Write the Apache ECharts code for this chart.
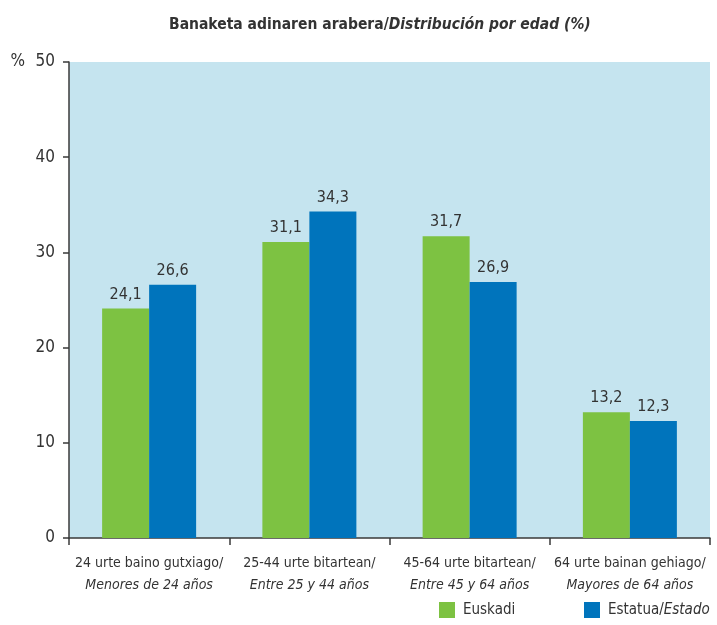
<!DOCTYPE html>
<html>
<head>
<meta charset="utf-8">
<script src="https://cdn.jsdelivr.net/npm/echarts@6/dist/echarts.min.js"></script>
<style>
html,body{margin:0;padding:0;background:#fff;}
#chart{width:717px;height:625px;}
</style>
</head>
<body>
<div id="chart"></div>
<script>
var categories_eu = ['24 urte baino gutxiago/', '25-44 urte bitartean/', '45-64 urte bitartean/', '64 urte bainan gehiago/'];
var categories_es = ['Menores de 24 años', 'Entre 25 y 44 años', 'Entre 45 y 64 años', 'Mayores de 64 años'];
var euskadiData = [24.1, 31.1, 31.7, 13.2];
var estatuaData = [26.6, 34.3, 26.9, 12.3];
var yTicks = [0, 10, 20, 30, 40, 50];

var fontFam = "'Liberation Sans Narrow', 'DejaVu Sans Condensed', sans-serif";
var textCol = '#333333';

var chart = echarts.init(document.getElementById('chart'));
var categories = [];
for (var i = 0; i < categories_eu.length; i++) {
    categories.push(categories_eu[i] + '\n{it|' + categories_es[i] + '}');
}
function fmt(p) {
    return String(p.value).replace('.', ',');
}
var legendText = {
    fontFamily: fontFam, fontSize: 15, color: textCol, padding: [0, 0, 0, 3],
    rich: {it: {fontFamily: fontFam, fontSize: 15, fontStyle: 'italic', color: textCol}}
};
var option = {
    animation: false,
    textStyle: {fontFamily: fontFam, color: textCol},
    title: {
        text: '{b|Banaketa adinaren arabera/}{bi|Distribución por edad (%)}',
        left: 164,
        top: 12,
        textStyle: {
            rich: {
                b: {fontFamily: fontFam, fontSize: 15.5, fontWeight: 'bold', color: textCol},
                bi: {fontFamily: fontFam, fontSize: 15.5, fontWeight: 'bold', fontStyle: 'italic', color: textCol}
            }
        }
    },
    legend: [
        {
            left: 434, bottom: 2, icon: 'rect', itemWidth: 16, itemHeight: 16, itemGap: 0,
            data: ['Euskadi'], textStyle: legendText
        },
        {
            left: 579, bottom: 2, icon: 'rect', itemWidth: 16, itemHeight: 16, itemGap: 0,
            data: ['Estatua/Estado'],
            formatter: function () { return 'Estatua/{it|Estado}'; },
            textStyle: legendText
        }
    ],
    grid: {
        left: 69, right: 7, top: 62, bottom: 87,
        show: true, backgroundColor: '#c5e4ef', borderWidth: 0
    },
    xAxis: {
        type: 'category',
        data: categories,
        axisLine: {show: true, lineStyle: {color: '#3a3a3a', width: 1.5}},
        axisTick: {show: true, alignWithLabel: false, length: 7, lineStyle: {color: '#3a3a3a', width: 1.5}},
        axisLabel: {
            interval: 0, margin: 14, fontFamily: fontFam, fontSize: 14, color: textCol, lineHeight: 22,
            rich: {it: {fontFamily: fontFam, fontSize: 14, fontStyle: 'italic', color: textCol, lineHeight: 22}}
        }
    },
    yAxis: {
        type: 'value',
        min: 0, max: 50, interval: 10,
        name: '%',
        nameLocation: 'end',
        nameGap: 0,
        nameMoveOverlap: false,
        nameTextStyle: {fontFamily: fontFam, fontSize: 17, color: textCol, align: 'right', verticalAlign: 'middle', padding: [0, 44, 0, 0]},
        axisLine: {show: true, lineStyle: {color: '#3a3a3a', width: 1.5}},
        axisTick: {show: true, length: 6, lineStyle: {color: '#3a3a3a', width: 1.5}},
        splitLine: {show: false},
        axisLabel: {
            margin: 14, fontFamily: fontFam, fontSize: 17, color: textCol,
            formatter: function (v) { return yTicks.indexOf(v) >= 0 ? String(v) : ''; }
        }
    },
    series: [
        {
            name: 'Euskadi', type: 'bar', data: euskadiData,
            barWidth: 47, barGap: '0%',
            itemStyle: {color: '#7dc242'},
            label: {show: true, position: 'top', distance: 6, formatter: fmt, fontFamily: fontFam, fontSize: 16, color: textCol}
        },
        {
            name: 'Estatua/Estado', type: 'bar', data: estatuaData,
            barWidth: 47, barGap: '0%',
            itemStyle: {color: '#0074bc'},
            label: {show: true, position: 'top', distance: 6, formatter: fmt, fontFamily: fontFam, fontSize: 16, color: textCol}
        }
    ]
};
chart.setOption(option);
</script>
</body>
</html>
